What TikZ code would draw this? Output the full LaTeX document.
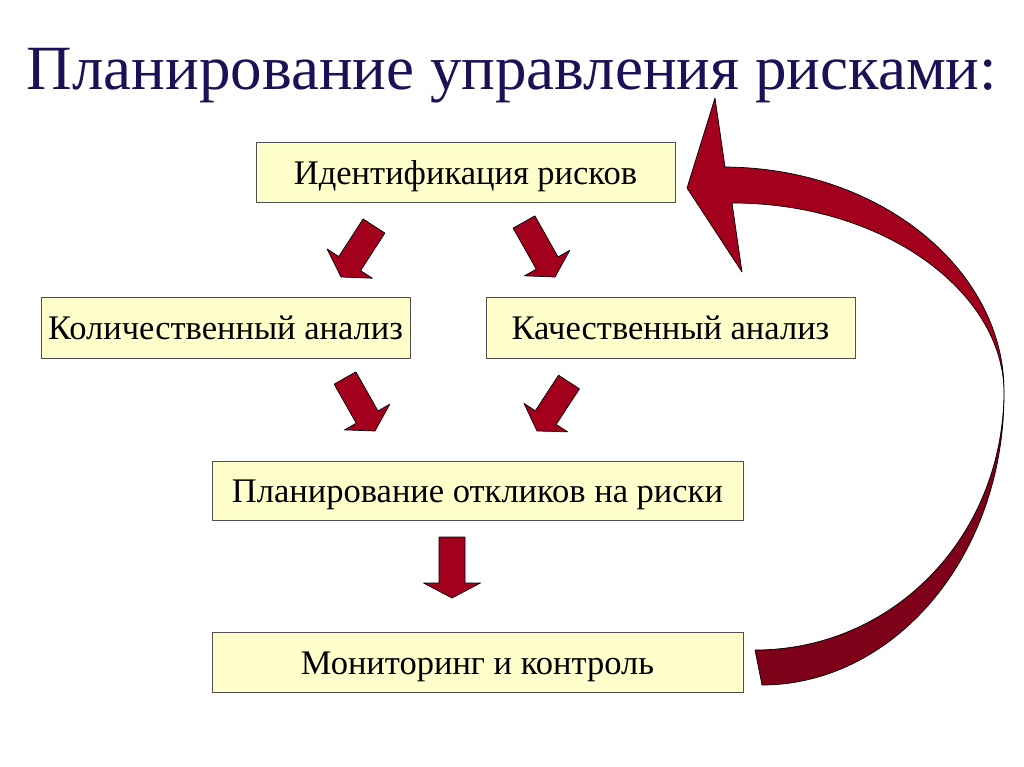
\documentclass[tikz,border=0pt]{standalone}
\usepackage{fontspec}
\setmainfont{Liberation Serif}
\usetikzlibrary{calc}
\definecolor{boxfill}{HTML}{FFFFCC}
\definecolor{boxline}{HTML}{505050}
\definecolor{titlecol}{HTML}{1A1256}
\definecolor{arrred}{HTML}{A3001E}
\definecolor{arrdark}{HTML}{7E0019}
\tikzset{
  box/.style={draw=boxline, fill=boxfill, line width=1pt, inner sep=0pt,
    font=\fontsize{34.5}{40}\selectfont, text=black, text height=25pt, text depth=1pt},
  blockarrow/.style={fill=arrred, draw=black, line width=0.7pt, line join=round},
}
\newcommand{\blockarr}[5]{%
  \coordinate (bh) at ($(#2)!#5!(#1)$);
  \filldraw[blockarrow] ($(#1)!#3!90:(#2)$) -- ($(bh)!#3!-90:(#1)$) -- ($(bh)!#4!-90:(#1)$) -- (#2)
    -- ($(bh)!#4!90:(#1)$) -- ($(bh)!#3!90:(#1)$) -- ($(#1)!#3!-90:(#2)$) -- cycle;
}
\begin{document}
\begin{tikzpicture}[x=1pt,y=-1pt]
\useasboundingbox (0,0) rectangle (1024,767);
\fill[white] (0,0) rectangle (1024,767);

\node[anchor=base, text=titlecol, font=\fontsize{63}{68}\selectfont] (title) at (512,90) {Планирование управления рисками:};

\node[box, minimum width=419pt, minimum height=60pt] (ident) at (465.5,173) {Идентификация рисков};
\node[box, minimum width=369pt, minimum height=61pt] (quant) at (225.5,327.5) {Количественный анализ};
\node[box, minimum width=369pt, minimum height=61pt] (qual) at (670.5,327.5) {Качественный анализ};
\node[box, minimum width=531pt, minimum height=59pt] (resp) at (477.5,490.5) {Планирование откликов на риски};
\node[box, minimum width=531pt, minimum height=60pt] (mon) at (477.5,662) {Мониторинг и контроль};

% straight block arrows
\coordinate (a1s) at (374,226); \coordinate (a1e) at (341,277);
\coordinate (a2s) at (524,222); \coordinate (a2e) at (555,277);
\coordinate (a3s) at (345,378); \coordinate (a3e) at (375,431);
\coordinate (a4s) at (569,382); \coordinate (a4e) at (537,431);
\coordinate (a5s) at (452,537); \coordinate (a5e) at (452,598);
\blockarr{a1s}{a1e}{13pt}{27pt}{16pt}
\blockarr{a2s}{a2e}{12.5pt}{26pt}{16pt}
\blockarr{a3s}{a3e}{12.5pt}{26pt}{16pt}
\blockarr{a4s}{a4e}{12.5pt}{26pt}{16pt}
\blockarr{a5s}{a5e}{13pt}{28.5pt}{15pt}

% curved feedback arrow
\coordinate (tw) at (1004,392);
\filldraw[fill=arrdark, draw=black, line width=0.7pt, line join=round]
  (tw) .. controls (1005,557) and (893,685) .. (762,685) -- (755,650)
  .. controls (892,650) and (1003,538) .. (tw) -- cycle;
\filldraw[fill=arrred, draw=black, line width=0.7pt, line join=round]
  (725,167) -- (715,98) -- (687,188) -- (742,272) -- (732,203)
  .. controls (883,203) and (1003,291) .. (tw)
  .. controls (1005,273) and (884,168) .. (725,167) -- cycle;
\end{tikzpicture}
\end{document}
